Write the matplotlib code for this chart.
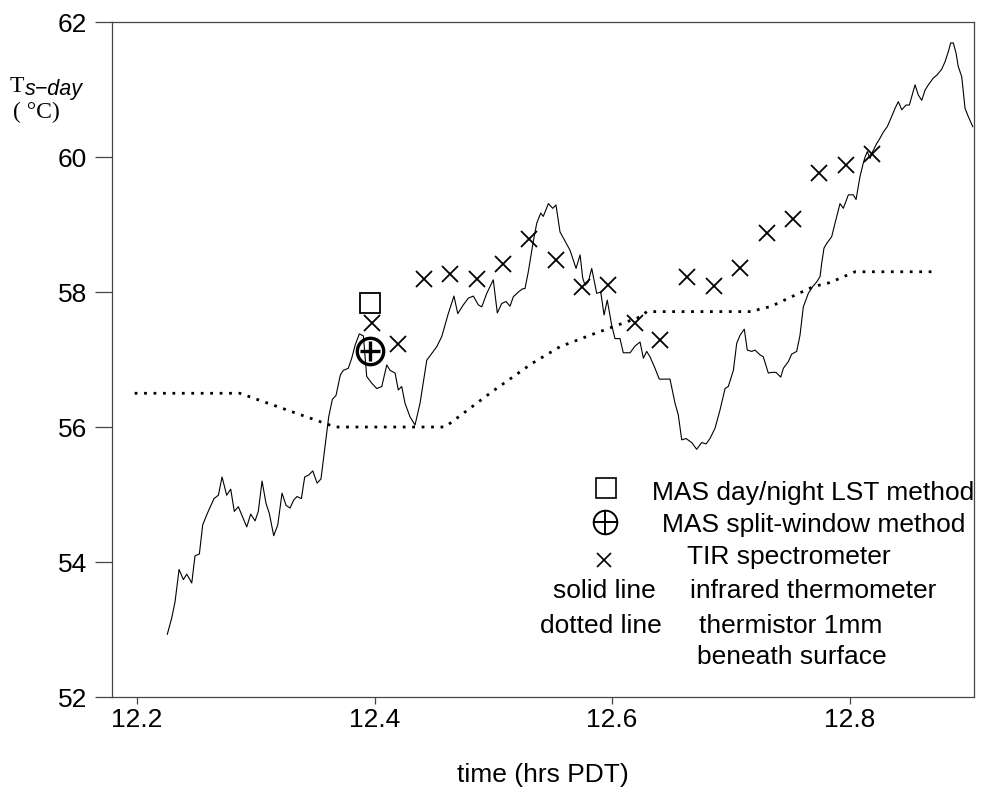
import matplotlib
matplotlib.use("Agg")
import matplotlib.pyplot as plt

plt.rcParams['font.family'] = ['Liberation Sans', 'DejaVu Sans']

# infrared thermometer (solid line)
ir_time = [12.2255, 12.2292, 12.2320, 12.2354, 12.2390, 12.2419, 12.2461, 12.2488, 12.2525, 12.2553,
           12.2587, 12.2648, 12.2685, 12.2716, 12.2755, 12.2789, 12.2819, 12.2853, 12.2924, 12.2957,
           12.2994, 12.3021, 12.3053, 12.3086, 12.3114, 12.3151, 12.3185, 12.3221, 12.3255, 12.3288,
           12.3320, 12.3347, 12.3384, 12.3412, 12.3446, 12.3480, 12.3516, 12.3549, 12.3586, 12.3614,
           12.3645, 12.3676, 12.3712, 12.3737, 12.3779, 12.3808, 12.3836, 12.3872, 12.3906, 12.3934,
           12.3976, 12.4019, 12.4061, 12.4103, 12.4131, 12.4173, 12.4200, 12.4229, 12.4257, 12.4299,
           12.4341, 12.4383, 12.4440, 12.4482, 12.4524, 12.4566, 12.4621, 12.4669, 12.4701, 12.4748,
           12.4790, 12.4832, 12.4874, 12.4903, 12.4945, 12.5000, 12.5034, 12.5071, 12.5107, 12.5141,
           12.5169, 12.5211, 12.5248, 12.5267, 12.5295, 12.5337, 12.5366, 12.5400, 12.5421, 12.5464,
           12.5501, 12.5528, 12.5562, 12.5646, 12.5697, 12.5731, 12.5753, 12.5773, 12.5800, 12.5829,
           12.5871, 12.5905, 12.5933, 12.5960, 12.5997, 12.6025, 12.6067, 12.6095, 12.6152, 12.6194,
           12.6236, 12.6264, 12.6292, 12.6320, 12.6362, 12.6398, 12.6488, 12.6531, 12.6558, 12.6587,
           12.6623, 12.6671, 12.6713, 12.6755, 12.6792, 12.6825, 12.6867, 12.6909, 12.6952, 12.6979,
           12.7022, 12.7050, 12.7078, 12.7114, 12.7139, 12.7176, 12.7204, 12.7246, 12.7274, 12.7316,
           12.7347, 12.7381, 12.7421, 12.7443, 12.7485, 12.7513, 12.7555, 12.7583, 12.7611, 12.7653,
           12.7690, 12.7724, 12.7752, 12.7766, 12.7785, 12.7808, 12.7850, 12.7878, 12.7906, 12.7920,
           12.7948, 12.7990, 12.8032, 12.8055, 12.8088, 12.8116, 12.8131, 12.8150, 12.8173, 12.8195,
           12.8229, 12.8257, 12.8285, 12.8318, 12.8355, 12.8383, 12.8411, 12.8440, 12.8476, 12.8504,
           12.8552, 12.8579, 12.8608, 12.8636, 12.8664, 12.8706, 12.8734, 12.8776, 12.8804, 12.8832,
           12.8852, 12.8874, 12.8897, 12.8916, 12.8945, 12.8973, 12.9000, 12.9038]
ir_temp = [52.93, 53.17, 53.41, 53.89, 53.74, 53.82, 53.69, 54.09, 54.12, 54.55,
           54.70, 54.94, 54.99, 55.26, 54.99, 55.08, 54.75, 54.82, 54.52, 54.71,
           54.61, 54.75, 55.20, 54.87, 54.72, 54.39, 54.55, 55.02, 54.84, 54.80,
           54.92, 54.97, 54.94, 55.26, 55.29, 55.35, 55.17, 55.23, 55.76, 56.15,
           56.41, 56.47, 56.77, 56.84, 56.87, 57.02, 57.21, 57.38, 57.35, 56.75,
           56.65, 56.57, 56.60, 56.92, 56.84, 56.80, 56.55, 56.60, 56.35, 56.15,
           56.03, 56.35, 56.99, 57.09, 57.19, 57.34, 57.68, 57.94, 57.68, 57.81,
           57.91, 57.94, 57.81, 57.78, 57.98, 58.18, 57.69, 57.83, 57.86, 57.79,
           57.93, 58.00, 58.05, 58.05, 58.30, 58.75, 59.02, 59.17, 59.12, 59.31,
           59.24, 59.29, 58.89, 58.62, 58.35, 58.55, 58.21, 58.10, 58.15, 58.35,
           57.98, 58.00, 57.66, 57.88, 57.51, 57.31, 57.31, 57.10, 57.10, 57.20,
           57.26, 57.02, 57.12, 57.04, 56.87, 56.71, 56.71, 56.35, 56.18, 55.81,
           55.83, 55.77, 55.67, 55.77, 55.75, 55.83, 55.98, 56.25, 56.57, 56.60,
           56.84, 57.24, 57.36, 57.45, 57.14, 57.12, 57.14, 57.07, 57.04, 56.80,
           56.81, 56.81, 56.74, 56.87, 56.97, 57.08, 57.12, 57.36, 57.78, 57.98,
           58.08, 58.15, 58.23, 58.43, 58.65, 58.72, 58.82, 59.02, 59.21, 59.31,
           59.24, 59.44, 59.44, 59.37, 59.71, 59.91, 60.00, 60.08, 59.98, 60.08,
           60.20, 60.28, 60.37, 60.45, 60.60, 60.72, 60.82, 60.70, 60.77, 60.77,
           61.07, 60.92, 60.84, 60.99, 61.07, 61.17, 61.21, 61.30, 61.41, 61.56,
           61.69, 61.69, 61.54, 61.34, 61.19, 60.72, 60.60, 60.45]

# thermistor 1mm beneath surface (dotted line)
th_time = [12.198, 12.2865, 12.367, 12.4594, 12.4987, 12.5324, 12.5562, 12.5815,
           12.625, 12.6292, 12.719, 12.726, 12.733, 12.7695, 12.7836, 12.8046, 12.8745]
th_temp = [56.50, 56.50, 56.00, 56.00, 56.52, 56.94, 57.19, 57.36,
           57.64, 57.71, 57.71, 57.76, 57.78, 58.08, 58.14, 58.30, 58.30]

# TIR spectrometer
tir_time = [12.3976, 12.4195, 12.4417, 12.4636, 12.4861, 12.5080, 12.5304, 12.5526, 12.5745, 12.5969,
            12.6194, 12.6404, 12.6634, 12.6859, 12.7078, 12.7305, 12.7522, 12.7746, 12.7971, 12.8187]
tir_temp = [57.54, 57.23, 58.20, 58.26, 58.20, 58.41, 58.78, 58.48, 58.08, 58.10,
            57.54, 57.29, 58.22, 58.09, 58.35, 58.87, 59.08, 59.76, 59.88, 60.05]

# MAS retrievals
mas_dn_time, mas_dn_temp = [12.3962], [57.84]
mas_sw_time, mas_sw_temp = [12.3962], [57.13]

legend_rows = [
    ("MAS day/night LST method", 0.6261, 0.3022),
    ("MAS split-window method", 0.6377, 0.2548),
    ("TIR spectrometer", 0.6667, 0.2074),
    ("infrared thermometer", 0.6705, 0.1575),
    ("thermistor 1mm", 0.6813, 0.1056),
    ("beneath surface", 0.6783, 0.0597),
]

fig = plt.figure(figsize=(9.84, 7.92), dpi=100)
ax = fig.add_axes([0.1138, 0.1199, 0.8760, 0.8523])

ax.plot(ir_time, ir_temp, color='black', lw=0.8)
ax.plot(th_time, th_temp, color='black', lw=2.0, linestyle=(0, (1, 2.4)), dash_capstyle='butt')
ax.plot(tir_time, tir_temp, 'x', color='black', ms=11.5, mew=1.3)
ax.plot(mas_dn_time, mas_dn_temp, 's', color='black', mfc='none', ms=14, mew=1.3)
ax.plot(mas_sw_time, mas_sw_temp, 'o', color='black', mfc='none', ms=19, mew=2.4)
ax.plot(mas_sw_time, mas_sw_temp, '+', color='black', ms=15, mew=2.4)

ax.set_xlim(12.1789, 12.9048)
ax.set_ylim(52, 62)
ax.set_xticks([12.2, 12.4, 12.6, 12.8])
ax.set_xticklabels(['12.2', '12.4', '12.6', '12.8'])
ax.set_yticks([52, 54, 56, 58, 60, 62])
ax.tick_params(direction='out', width=0.9, color='#444444',
               labelsize=19, top=False, right=False)
ax.tick_params(axis='y', length=12, pad=6)
ax.tick_params(axis='x', length=5, pad=3)
for sp in ax.spines.values():
    sp.set_color('#444444')
    sp.set_linewidth(0.9)
ax.set_xlabel('time (hrs PDT)', fontsize=19, labelpad=22)

# legend drawn as text block
for label, lx, ly in legend_rows:
    ax.text(lx, ly, label, transform=ax.transAxes, fontsize=19, va='center', ha='left')
ax.text(0.5120, 0.1575, 'solid line', transform=ax.transAxes, fontsize=19, va='center', ha='left')
ax.text(0.4965, 0.1056, 'dotted line', transform=ax.transAxes, fontsize=19, va='center', ha='left')
ax.plot([0.5731], [0.3096], 's', color='black', mfc='none', ms=14, mew=1.2,
        transform=ax.transAxes, clip_on=False)
ax.plot([0.5719], [0.2593], 'o', color='black', mfc='none', ms=17, mew=1.4,
        transform=ax.transAxes, clip_on=False)
ax.plot([0.5719], [0.2593], '+', color='black', ms=17, mew=1.4,
        transform=ax.transAxes, clip_on=False)
ax.plot([0.5708], [0.2030], 'x', color='black', ms=10, mew=1.2,
        transform=ax.transAxes, clip_on=False)

# y axis label: T with italic subscript, unit below
fig.text(10 / 984, 1 - 92 / 792, 'T', family='Liberation Serif', fontsize=17, va='baseline')
fig.text(25 / 984, 1 - 95 / 792, 's\u2212day', family='Liberation Sans', style='italic',
         fontsize=15.5, va='baseline')
fig.text(13 / 984, 1 - 118 / 792, '( \u00b0C)', family='Liberation Serif', fontsize=17, va='baseline')

fig.savefig('out.png', dpi=100)
